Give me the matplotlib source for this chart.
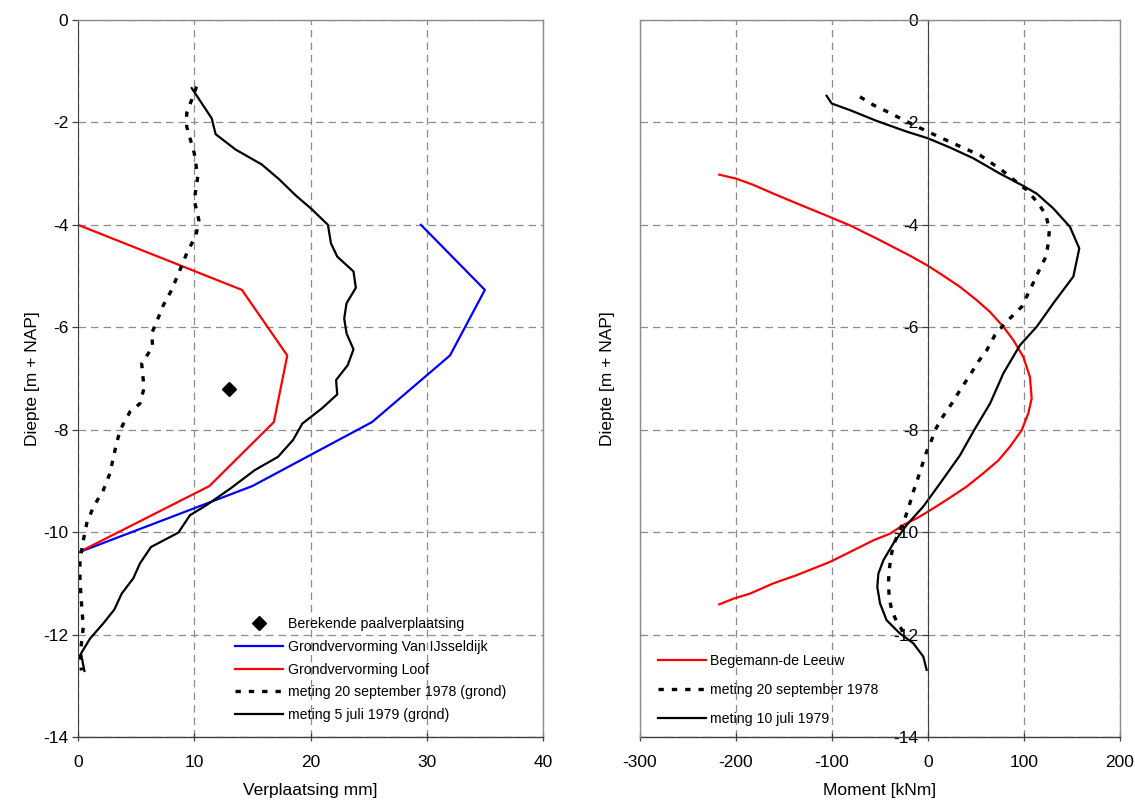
import matplotlib
matplotlib.use("Agg")
import matplotlib.pyplot as plt

plt.rcParams['font.family'] = ['Liberation Sans', 'DejaVu Sans']
plt.rcParams['axes.unicode_minus'] = False

# ---- Left panel: displacement (mm) versus depth (m + NAP) ----
depth_model = [-4.0, -5.27, -6.55, -7.85, -9.1, -10.4]
vanijsseldijk_mm = [29.5, 35.0, 32.0, 25.3, 15.0, 0.0]
loof_mm = [0.0, 14.1, 18.0, 16.85, 11.3, 0.0]

pile_disp_mm = [13.0]
pile_depth = [-7.2]

sep1978_mm = [10.2, 9.35, 9.35, 10.0, 10.3, 10.0, 10.4, 10.15, 9.35, 8.86, 8.06,
              7.34, 6.82, 6.34, 6.42, 5.48, 5.68, 5.33, 4.47, 3.61, 3.18, 2.75,
              2.18, 1.32, 0.75, 0.46, 0.17, 0.17, 0.32, 0.46, 0.32, 0.17, 0.3]
sep1978_depth = [-1.3, -1.82, -2.08, -2.6, -3.06, -3.52, -3.91, -4.2, -4.56, -4.83,
                 -5.27, -5.57, -5.86, -6.12, -6.38, -6.71, -7.19, -7.49, -7.65,
                 -8.01, -8.4, -8.85, -9.18, -9.51, -9.83, -10.16, -10.55, -10.94,
                 -11.46, -11.85, -12.11, -12.5, -12.7]

jul1979_mm = [9.78, 11.5, 11.84, 13.56, 15.8, 17.3, 18.8, 20.04, 21.5, 21.76, 22.3,
              23.7, 23.9, 23.1, 22.9, 23.1, 23.7, 23.2, 22.2, 22.3, 21.0, 19.3,
              18.5, 17.2, 15.2, 13.1, 11.07, 9.63, 8.63, 6.28, 5.33, 4.76, 3.76,
              3.13, 2.18, 1.03, 0.26, 0.55]
jul1979_depth = [-1.33, -1.92, -2.23, -2.53, -2.82, -3.11, -3.44, -3.68, -4.0, -4.36,
                 -4.62, -4.91, -5.23, -5.53, -5.83, -6.12, -6.43, -6.74, -7.03,
                 -7.31, -7.58, -7.88, -8.2, -8.53, -8.79, -9.15, -9.47, -9.67,
                 -10.01, -10.29, -10.61, -10.9, -11.2, -11.51, -11.78, -12.08,
                 -12.37, -12.71]

# ---- Right panel: bending moment (kNm) versus depth ----
begemann_knm = [-217.4, -199.3, -181.9, -161.1, -136.8, -110.8, -81.3, -50.0, -17.0,
                0.0, 12.5, 33.3, 50.7, 64.6, 78.5, 88.9, 99.3, 106.2, 108.0, 104.5,
                97.6, 85.4, 73.3, 57.6, 40.3, 19.4, 0.0, -11.8, -25.7, -39.6, -56.9,
                -70.8, -84.7, -102.0, -119.4, -136.8, -161.1, -185.4, -202.8, -217.4]
begemann_depth = [-3.02, -3.1, -3.22, -3.39, -3.58, -3.78, -4.01, -4.3, -4.62, -4.8,
                  -4.95, -5.21, -5.47, -5.7, -5.99, -6.25, -6.58, -6.97, -7.39,
                  -7.68, -8.01, -8.33, -8.6, -8.85, -9.11, -9.37, -9.6, -9.73,
                  -9.86, -10.03, -10.16, -10.29, -10.42, -10.58, -10.71, -10.84,
                  -11.0, -11.2, -11.3, -11.41]

msep1978_knm = [-70.8, -56.9, -41.3, -25.7, -1.4, 26.4, 54.2, 76.7, 102.8, 114.9,
                122.9, 126.4, 125.3, 122.9, 116.7, 106.2, 97.6, 80.2, 69.8, 61.1,
                52.4, 43.8, 33.3, 24.7, 14.2, 7.3, 3.8, -2.1, -6.6, -11.1, -15.3,
                -19.4, -24.0, -29.2, -36.1, -38.9, -40.3, -41.3, -40.3, -37.8,
                -32.6, -25.7]
msep1978_depth = [-1.5, -1.66, -1.8, -1.95, -2.17, -2.41, -2.64, -2.93, -3.32, -3.58,
                  -3.81, -4.1, -4.36, -4.62, -4.85, -5.27, -5.6, -5.92, -6.15, -6.45,
                  -6.67, -6.93, -7.23, -7.49, -7.78, -8.01, -8.2, -8.46, -8.72,
                  -8.98, -9.21, -9.47, -9.73, -9.96, -10.25, -10.51, -10.74, -11.0,
                  -11.29, -11.52, -11.75, -11.95]

mjul1979_knm = [-105.6, -100.3, -81.25, -53.5, -22.2, 0.0, 22.9, 47.2, 75.0, 99.3,
                113.2, 130.6, 147.9, 157.6, 151.4, 130.6, 113.2, 95.8, 78.5, 64.6,
                48.0, 33.3, 12.5, -4.9, -22.2, -36.1, -46.5, -51.7, -52.8, -50.0,
                -43.1, -29.2, -15.3, -4.9, -1.4]
mjul1979_depth = [-1.48, -1.63, -1.76, -1.97, -2.18, -2.31, -2.49, -2.7, -3.0, -3.24,
                  -3.39, -3.68, -4.04, -4.46, -5.01, -5.53, -5.99, -6.35, -6.9,
                  -7.49, -8.01, -8.5, -9.05, -9.5, -9.86, -10.22, -10.55, -10.81,
                  -11.07, -11.39, -11.72, -11.98, -12.17, -12.43, -12.69]

FS_TICK = 12.5
FS_LABEL = 12.5
FS_LEGEND = 10.2
GRID = '#8c8c8c'
FRAME = '#8c8c8c'
AXIS = '#404040'
DOT = (0, (1.6, 2.4))

fig = plt.figure(figsize=(11.35, 8.01), dpi=100)
ax1 = fig.add_axes([78 / 1135, 64 / 801, 465 / 1135, 717 / 801])
ax2 = fig.add_axes([640 / 1135, 64 / 801, 480 / 1135, 717 / 801])


def style_axes(ax):
    ax.set_ylim(-14, 0)
    ax.set_yticks(range(-14, 1, 2))
    ax.grid(True, color=GRID, linestyle=(0, (6, 4)), linewidth=0.9)
    ax.set_axisbelow(True)
    for side in ('top', 'right'):
        ax.spines[side].set_color(FRAME)
        ax.spines[side].set_linewidth(1.0)
    ax.spines['bottom'].set_color(AXIS)
    ax.spines['bottom'].set_linewidth(1.0)
    ax.tick_params(axis='x', direction='inout', length=6, width=0.9,
                   color=AXIS, labelsize=FS_TICK, pad=10)
    ax.tick_params(axis='y', direction='out', length=4, width=0.9,
                   color=AXIS, labelsize=FS_TICK, pad=3)


# Left panel
style_axes(ax1)
ax1.set_xlim(0, 40)
ax1.set_xticks(range(0, 41, 10))
ax1.spines['left'].set_color(AXIS)
ax1.plot(pile_disp_mm, pile_depth, linestyle='none', marker='D', markersize=7,
         color='black', label='Berekende paalverplaatsing')
ax1.plot(vanijsseldijk_mm, depth_model, color='#0000ff', lw=1.6,
         label='Grondvervorming Van IJsseldijk')
ax1.plot(loof_mm, depth_model, color='#ff0000', lw=1.6,
         label='Grondvervorming Loof')
ax1.plot(sep1978_mm, sep1978_depth, color='black', lw=2.4, linestyle=DOT,
         label='meting 20 september 1978 (grond)')
ax1.plot(jul1979_mm, jul1979_depth, color='black', lw=1.6,
         label='meting 5 juli 1979 (grond)')
ax1.set_xlabel('Verplaatsing mm]', fontsize=FS_LABEL, labelpad=9)
ax1.set_ylabel('Diepte [m + NAP]', fontsize=FS_LABEL)
ax1.yaxis.set_label_coords(-0.082, 0.5)

ax1.legend(loc='upper left', bbox_to_anchor=(235 / 1135, 1 - 617 / 801),
           bbox_transform=fig.transFigure, frameon=False, fontsize=FS_LEGEND,
           handlelength=3.4, handletextpad=0.35, labelspacing=0.62,
           borderpad=0, borderaxespad=0)

# Right panel
style_axes(ax2)
ax2.set_xlim(-300, 200)
ax2.set_xticks(range(-300, 201, 100))
ax2.spines['left'].set_position(('data', 0))
ax2.spines['left'].set_color(AXIS)
ax2.axvline(-300, color=FRAME, lw=1.0, clip_on=False, zorder=3)
ax2.plot(begemann_knm, begemann_depth, color='#ff0000', lw=1.6,
         label='Begemann-de Leeuw')
ax2.plot(msep1978_knm, msep1978_depth, color='black', lw=2.4, linestyle=DOT,
         label='meting 20 september 1978')
ax2.plot(mjul1979_knm, mjul1979_depth, color='black', lw=1.6,
         label='meting 10 juli 1979')
ax2.set_xlabel('Moment [kNm]', fontsize=FS_LABEL, labelpad=9)
ax2.set_ylabel('Diepte [m + NAP]', fontsize=FS_LABEL)
ax2.yaxis.set_label_coords(-0.052, 0.5)

ax2.legend(loc='upper left', bbox_to_anchor=(658 / 1135, 1 - 654 / 801),
           bbox_transform=fig.transFigure, frameon=False, fontsize=FS_LEGEND,
           handlelength=3.4, handletextpad=0.3, labelspacing=1.05,
           borderpad=0, borderaxespad=0)

fig.savefig('out.png', dpi=100)
